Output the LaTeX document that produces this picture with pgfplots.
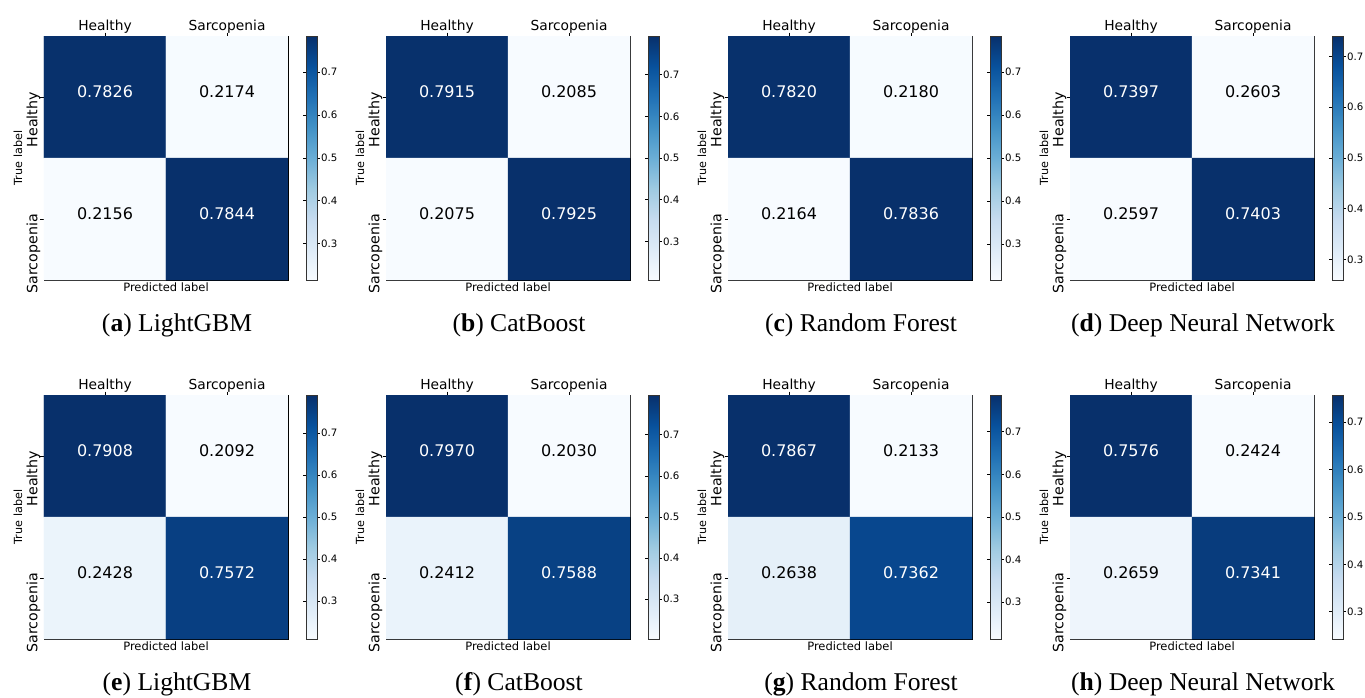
\documentclass[border=0pt]{standalone}
\usepackage{fontspec}
\setmainfont{DejaVu Sans}
\newfontfamily\capfont{Liberation Serif}
\usepackage{pgfplots}
\pgfplotsset{compat=1.18}
\pgfplotsset{colormap={blues}{rgb255=(247,251,255) rgb255=(222,235,247) rgb255=(198,219,239) rgb255=(158,202,225) rgb255=(107,174,214) rgb255=(66,146,198) rgb255=(33,113,181) rgb255=(8,81,156) rgb255=(8,48,107)}}

% #1 col, #2 row, #3 letter, #4 name, #5..#8 values (row-major)
\newcommand\panel[8]{%
\pgfmathsetmacro\cmin{min(#5,#6,#7,#8)}%
\pgfmathsetmacro\cmax{max(#5,#6,#7,#8)}%
\begin{axis}[
  at={({44pt+342pt*#1},{-36pt-359pt*#2})}, anchor=north west,
  scale only axis, width=244pt, height=244pt,
  xmin=-0.5, xmax=1.5, ymin=-0.5, ymax=1.5, y dir=reverse,
  enlargelimits=false,
  colormap name=blues,
  point meta min=\cmin, point meta max=\cmax,
  xtick={0,1}, xticklabels={Healthy,Sarcopenia},
  ytick={0,1}, yticklabels={Healthy,Sarcopenia},
  xtick pos=right, xticklabel pos=right, ytick pos=left,
  tick align=outside, major tick length=3.5pt,
  tick style={black, line width=0.8pt},
  axis line style={black, line width=0.8pt},
  xticklabel style={font=\fontsize{13.8}{16}\selectfont, anchor=base, inner sep=0pt, yshift=2pt},
  yticklabel style={font=\fontsize{14.2}{16}\selectfont, rotate=90, anchor=south east, inner ysep=0pt, inner xsep=-5pt},
  xlabel={Predicted label}, ylabel={True label},
  xlabel style={font=\fontsize{11.5}{13}\selectfont, at={(axis description cs:0.5,-0.049)}, anchor=base, inner sep=0pt},
  ylabel style={font=\fontsize{11.2}{13}\selectfont, at={(axis description cs:-0.09,0.5)}, anchor=base, inner sep=0pt},
  colorbar,
  colorbar style={
    at={(parent axis.north east)}, anchor=north west, xshift=9.5pt,
    scale only axis, width=11pt, height=244pt,
    ytick={0.3,0.4,0.5,0.6,0.7},
    yticklabel style={font=\fontsize{10.2}{12}\selectfont, inner xsep=1pt, /pgf/number format/assume math mode=true, /pgf/number format/fixed, /pgf/number format/precision=1},
    tick align=outside, major tick length=3pt,
    ytick style={black, line width=0.8pt},
    axis line style={black!80, line width=0.8pt},
  },
]
\addplot[matrix plot*, mesh/cols=2, point meta=explicit] table[row sep=\\, meta=c] {x y c\\ 0 0 #5\\ 1 0 #6\\ 0 1 #7\\ 1 1 #8\\};
\addplot[only marks, mark=none, point meta=explicit symbolic, nodes near coords, nodes near coords style={font=\fontsize{16}{19}\selectfont, text=white, anchor=center, yshift=5pt}] table[row sep=\\, meta=t] {x y t\\ 0 0 #5\\ 1 1 #8\\};
\addplot[only marks, mark=none, point meta=explicit symbolic, nodes near coords, nodes near coords style={font=\fontsize{16}{19}\selectfont, text=black, anchor=center, yshift=5pt}] table[row sep=\\, meta=t] {x y t\\ 1 0 #6\\ 0 1 #7\\};
\end{axis}
\node[anchor=base, font=\capfont\fontsize{25.6}{30}\selectfont] at ({177pt+342pt*#1},{-331.7pt-359pt*#2}) {(\textbf{#3}) #4};
}

\begin{document}
\begin{tikzpicture}
\useasboundingbox (0,0) rectangle (1365pt,-698pt);
\panel{0}{0}{a}{LightGBM}{0.7826}{0.2174}{0.2156}{0.7844}
\panel{1}{0}{b}{CatBoost}{0.7915}{0.2085}{0.2075}{0.7925}
\panel{2}{0}{c}{Random Forest}{0.7820}{0.2180}{0.2164}{0.7836}
\panel{3}{0}{d}{Deep Neural Network}{0.7397}{0.2603}{0.2597}{0.7403}
\panel{0}{1}{e}{LightGBM}{0.7908}{0.2092}{0.2428}{0.7572}
\panel{1}{1}{f}{CatBoost}{0.7970}{0.2030}{0.2412}{0.7588}
\panel{2}{1}{g}{Random Forest}{0.7867}{0.2133}{0.2638}{0.7362}
\panel{3}{1}{h}{Deep Neural Network}{0.7576}{0.2424}{0.2659}{0.7341}
\end{tikzpicture}
\end{document}
